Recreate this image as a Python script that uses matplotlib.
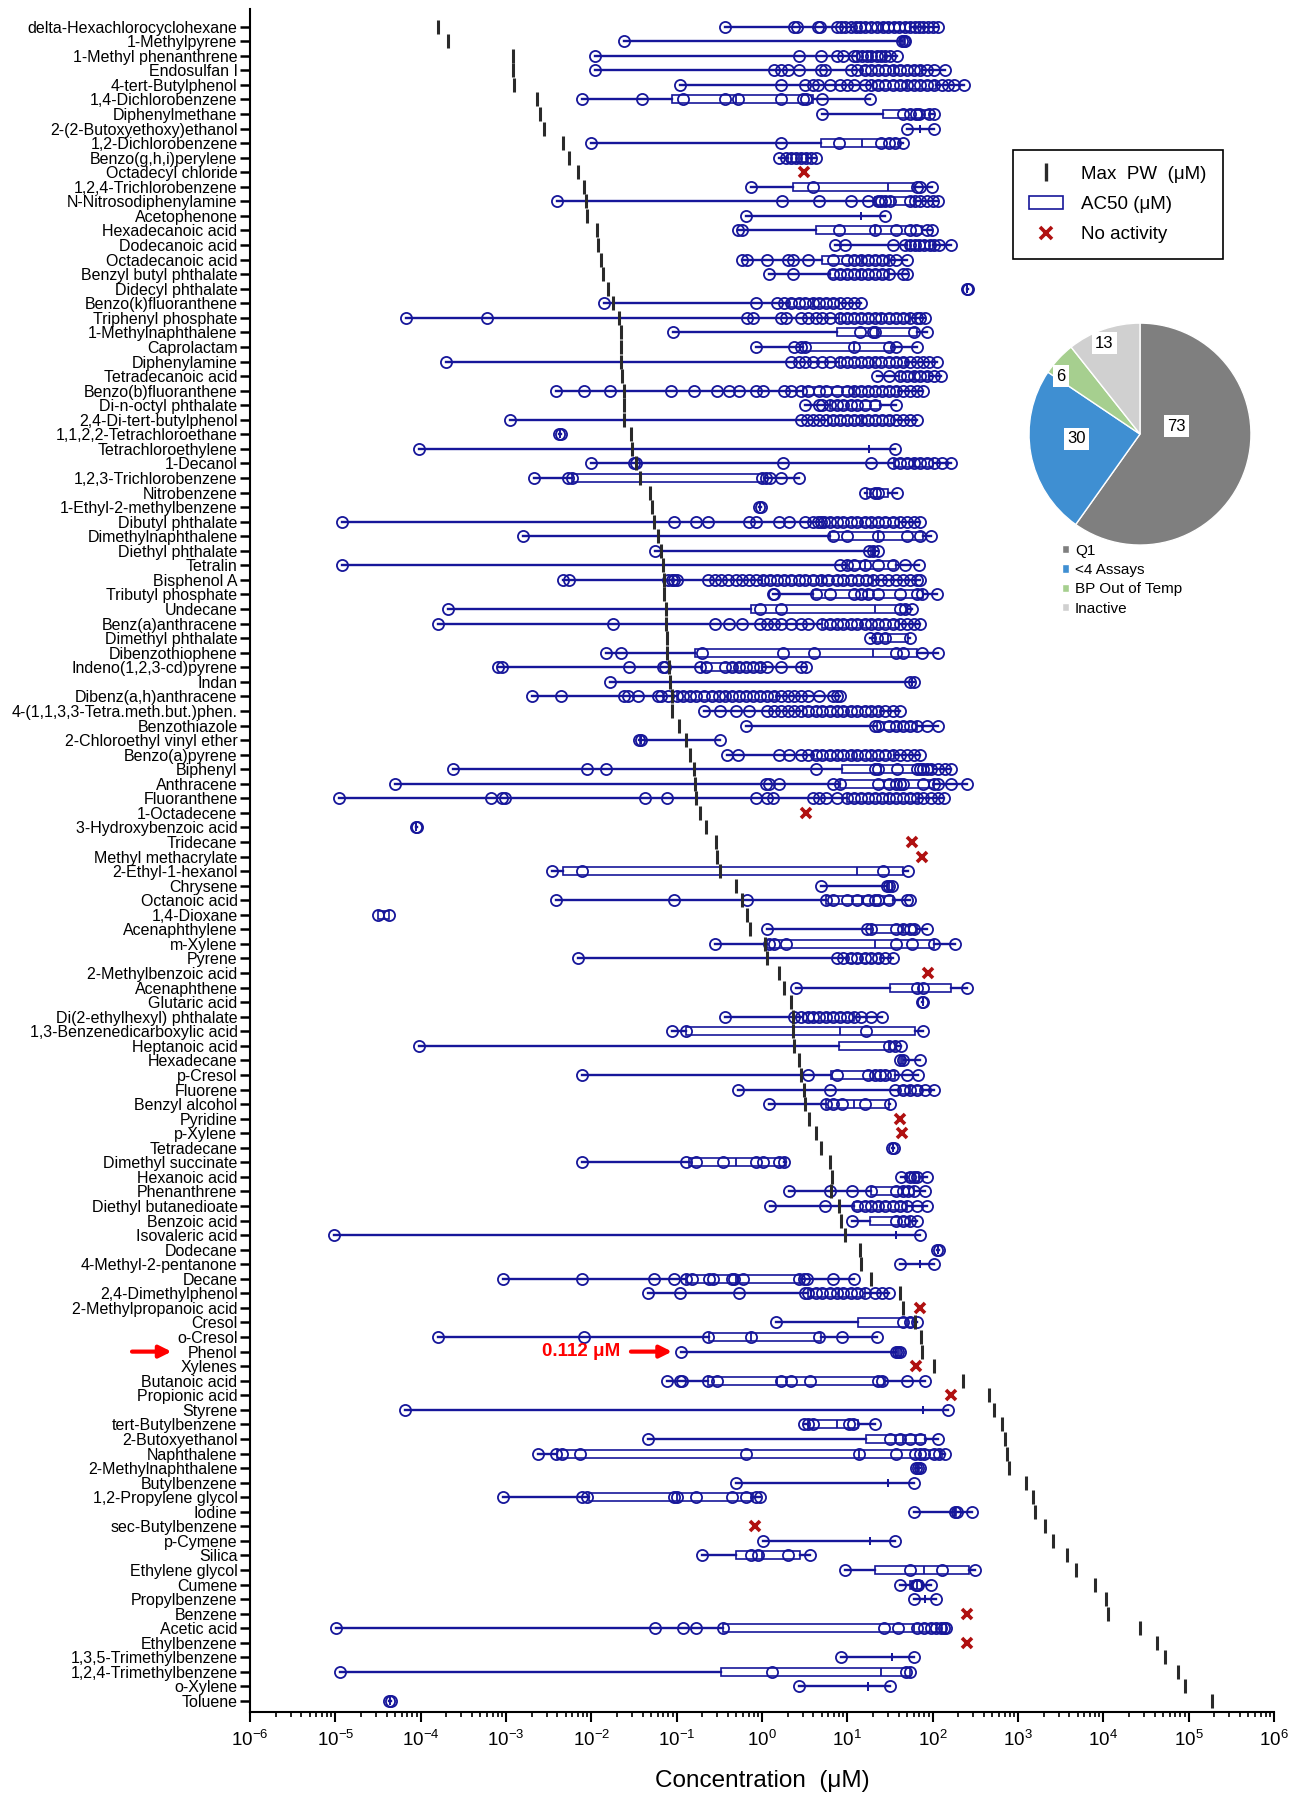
import matplotlib.pyplot as plt
import numpy as np
from matplotlib.lines import Line2D
from matplotlib.patches import Patch
from matplotlib.ticker import LogLocator, NullFormatter

plt.rcParams['font.family'] = ['Liberation Sans', 'DejaVu Sans']

# compounds, top to bottom
compounds = [
    'delta-Hexachlorocyclohexane', '1-Methylpyrene', '1-Methyl phenanthrene', 'Endosulfan I',
    '4-tert-Butylphenol', '1,4-Dichlorobenzene', 'Diphenylmethane', '2-(2-Butoxyethoxy)ethanol',
    '1,2-Dichlorobenzene', 'Benzo(g,h,i)perylene', 'Octadecyl chloride', '1,2,4-Trichlorobenzene',
    'N-Nitrosodiphenylamine', 'Acetophenone', 'Hexadecanoic acid', 'Dodecanoic acid',
    'Octadecanoic acid', 'Benzyl butyl phthalate', 'Didecyl phthalate', 'Benzo(k)fluoranthene',
    'Triphenyl phosphate', '1-Methylnaphthalene', 'Caprolactam', 'Diphenylamine',
    'Tetradecanoic acid', 'Benzo(b)fluoranthene', 'Di-n-octyl phthalate', '2,4-Di-tert-butylphenol',
    '1,1,2,2-Tetrachloroethane', 'Tetrachloroethylene', '1-Decanol', '1,2,3-Trichlorobenzene',
    'Nitrobenzene', '1-Ethyl-2-methylbenzene', 'Dibutyl phthalate', 'Dimethylnaphthalene',
    'Diethyl phthalate', 'Tetralin', 'Bisphenol A', 'Tributyl phosphate',
    'Undecane', 'Benz(a)anthracene', 'Dimethyl phthalate', 'Dibenzothiophene',
    'Indeno(1,2,3-cd)pyrene', 'Indan', 'Dibenz(a,h)anthracene', '4-(1,1,3,3-Tetra.meth.but.)phen.',
    'Benzothiazole', '2-Chloroethyl vinyl ether', 'Benzo(a)pyrene', 'Biphenyl',
    'Anthracene', 'Fluoranthene', '1-Octadecene', '3-Hydroxybenzoic acid',
    'Tridecane', 'Methyl methacrylate', '2-Ethyl-1-hexanol', 'Chrysene',
    'Octanoic acid', '1,4-Dioxane', 'Acenaphthylene', 'm-Xylene',
    'Pyrene', '2-Methylbenzoic acid', 'Acenaphthene', 'Glutaric acid',
    'Di(2-ethylhexyl) phthalate', '1,3-Benzenedicarboxylic acid', 'Heptanoic acid', 'Hexadecane',
    'p-Cresol', 'Fluorene', 'Benzyl alcohol', 'Pyridine',
    'p-Xylene', 'Tetradecane', 'Dimethyl succinate', 'Hexanoic acid',
    'Phenanthrene', 'Diethyl butanedioate', 'Benzoic acid', 'Isovaleric acid',
    'Dodecane', '4-Methyl-2-pentanone', 'Decane', '2,4-Dimethylphenol',
    '2-Methylpropanoic acid', 'Cresol', 'o-Cresol', 'Phenol',
    'Xylenes', 'Butanoic acid', 'Propionic acid', 'Styrene',
    'tert-Butylbenzene', '2-Butoxyethanol', 'Naphthalene', '2-Methylnaphthalene',
    'Butylbenzene', '1,2-Propylene glycol', 'Iodine', 'sec-Butylbenzene',
    'p-Cymene', 'Silica', 'Ethylene glycol', 'Cumene',
    'Propylbenzene', 'Benzene', 'Acetic acid', 'Ethylbenzene',
    '1,3,5-Trimethylbenzene', '1,2,4-Trimethylbenzene', 'o-Xylene', 'Toluene',
]

# max porewater concentration (uM)
max_pw = [
    1.6e-4, 2.1e-4, 1.2e-3, 1.2e-3, 1.25e-3, 2.3e-3, 2.5e-3, 2.8e-3, 4.7e-3, 5.4e-3,
    7.0e-3, 8.2e-3, 8.7e-3, 9.0e-3, 0.0115, 0.012, 0.013, 0.0136, 0.0158, 0.018,
    0.021, 0.022, 0.022, 0.0223, 0.023, 0.024, 0.024, 0.024, 0.029, 0.030,
    0.033, 0.037, 0.049, 0.051, 0.054, 0.060, 0.065, 0.070, 0.072, 0.072,
    0.074, 0.074, 0.077, 0.078, 0.081, 0.083, 0.087, 0.088, 0.107, 0.13,
    0.144, 0.16, 0.165, 0.17, 0.187, 0.22, 0.29, 0.30, 0.32, 0.49,
    0.58, 0.67, 0.73, 1.07, 1.16, 1.6, 1.8, 2.2, 2.3, 2.3,
    2.4, 2.7, 2.9, 3.1, 3.2, 3.6, 4.3, 4.9, 6.2, 6.6,
    6.4, 7.9, 8.5, 9.5, 13.9, 14.4, 18.8, 41, 45, 62,
    73, 76, 105, 224, 460, 525, 650, 700, 740, 790,
    1240, 1490, 1580, 2050, 2570, 3800, 4760, 7950, 10700, 11500,
    27000, 43000, 53000, 75000, 91000, 186000,
]

# AC50 values (uM) per compound, empty = no activity
ac50 = [
    [0.37, 2.4, 2.6, 4.5, 4.8, 7.5, 8.5, 9.5, 11, 12.5, 14, 16, 19, 22, 26, 30, 35, 40, 47, 55, 62, 70, 78, 88, 100, 115],
    [0.024, 44, 46, 48],
    [0.011, 2.7, 4.9, 7.5, 9, 12, 13, 15, 17, 19, 22, 25, 28, 32, 38],
    [0.011, 1.4, 1.66, 2.0, 2.7, 4.9, 5.5, 11, 13, 16, 19, 23, 28, 34, 41, 50, 60, 72, 87, 105, 139],
    [0.11, 1.66, 3.2, 4.0, 4.5, 6.2, 8.2, 10, 12, 16, 19, 23, 28, 34, 41, 50, 60, 72, 87, 105, 127, 150, 180, 236],
    [0.0078, 0.039, 0.12, 0.37, 0.52, 1.66, 3.0, 3.3, 5.1, 18.6],
    [5.1, 45, 55, 63, 70, 90, 105],
    [50, 105],
    [0.010, 1.66, 7.9, 25, 31, 36, 45],
    [1.6, 1.9, 2.2, 2.5, 2.9, 3.3, 3.8, 4.3],
    [],
    [0.74, 4.0, 65, 72, 99],
    [0.004, 1.7, 4.7, 11, 17.5, 23, 25, 28, 32, 55, 62, 72, 85, 100, 115],
    [0.65, 28],
    [0.52, 0.59, 7.9, 21, 37, 54, 63, 87, 99],
    [7.1, 9.4, 34, 48, 55, 62, 70, 80, 92, 105, 120, 166],
    [0.59, 0.67, 1.14, 2.0, 2.3, 3.5, 6.8, 10, 12, 14.5, 17.5, 21, 25.5, 31, 37, 50],
    [1.2, 2.3, 6.8, 8.2, 10, 12, 14.5, 17.5, 21, 25.5, 31, 45, 50],
    [250, 260],
    [0.014, 0.86, 1.5, 1.8, 2.2, 2.7, 3.2, 4.0, 4.7, 5.6, 6.8, 8.2, 10, 12, 14.5],
    [6.8e-5, 6e-4, 0.67, 0.78, 1.66, 1.9, 2.9, 3.5, 4.3, 5.1, 6.2, 8.2, 10, 12, 14.5, 17.5, 21, 25, 31, 37, 45, 54, 65, 72, 82],
    [0.09, 14, 20, 21, 60, 87],
    [0.86, 2.4, 2.9, 3.2, 12, 31, 37, 65],
    [2e-4, 2.2, 2.7, 3.2, 4.0, 5.1, 6.2, 8.2, 10, 12, 14.5, 17.5, 21, 25, 31, 37, 45, 54, 65, 78, 90, 111],
    [22, 31, 41, 50, 60, 72, 87, 105, 125],
    [0.0039, 0.0082, 0.0165, 0.085, 0.16, 0.30, 0.41, 0.54, 0.86, 1.04, 1.8, 2.2, 2.9, 3.5, 4.7, 5.6, 7.5, 10, 12, 14.5, 17.5, 21, 25.5, 31, 37, 45, 54, 65, 78],
    [3.2, 4.7, 5.1, 6.2, 7.5, 9, 11, 13, 16, 21, 37],
    [0.0011, 2.9, 3.4, 4.0, 4.7, 5.6, 6.8, 8.2, 10, 12, 14.5, 17.5, 21, 25.5, 31, 37, 45, 54, 65],
    [0.0042, 0.0044],
    [9.6e-5, 36],
    [0.01, 0.032, 0.033, 1.76, 19, 34, 41, 50, 60, 72, 87, 105, 127, 166],
    [0.0021, 0.0053, 0.0059, 1.0, 1.1, 1.25, 1.66, 2.7],
    [16, 21, 23, 38],
    [0.93, 0.97],
    [1.2e-5, 0.093, 0.17, 0.23, 0.71, 0.86, 1.6, 2.1, 3.2, 4.0, 4.5, 4.9, 5.4, 6.2, 7.5, 9, 11, 13, 16, 19, 23, 28, 34, 41, 50, 60, 72],
    [0.0016, 6.8, 10, 23, 50, 72, 95],
    [0.056, 18, 20, 23],
    [1.2e-5, 8.2, 10, 12, 16, 23, 34, 47, 70],
    [0.0046, 0.0055, 0.08, 0.087, 0.093, 0.1, 0.23, 0.28, 0.33, 0.4, 0.49, 0.59, 0.71, 0.86, 1.04, 1.25, 1.5, 1.8, 2.2, 2.7, 3.2, 4.0, 4.9, 6, 7.5, 9, 11, 13.5, 16.5, 20, 25, 30, 37, 45, 55, 65, 72],
    [1.33, 1.4, 4.3, 6.2, 12, 14.5, 17.5, 23, 41, 65, 75, 111],
    [2.1e-4, 0.95, 1.66, 41, 47, 57],
    [1.6e-4, 0.018, 0.28, 0.41, 0.59, 0.95, 1.14, 1.38, 1.66, 2.2, 2.9, 3.5, 5.1, 6.2, 7.5, 9, 11, 13, 16, 19, 23, 28, 34, 41, 50, 60, 72],
    [18.6, 22, 28, 54],
    [0.015, 0.022, 0.2, 1.76, 4.1, 37, 45, 75, 115],
    [8.1e-4, 8.9e-4, 0.028, 0.07, 0.073, 0.19, 0.22, 0.37, 0.45, 0.54, 0.65, 0.78, 0.95, 1.14, 1.66, 2.9, 3.3],
    [0.0165, 54, 60],
    [0.002, 0.0044, 0.024, 0.027, 0.035, 0.06, 0.066, 0.08, 0.1, 0.12, 0.145, 0.17, 0.21, 0.26, 0.31, 0.37, 0.45, 0.54, 0.65, 0.78, 0.95, 1.14, 1.4, 1.66, 2.0, 2.4, 2.9, 3.5, 4.7, 6.8, 7.5, 8.2],
    [0.21, 0.32, 0.49, 0.71, 1.14, 1.4, 1.66, 2.0, 2.4, 2.9, 3.5, 4.3, 5.1, 6.2, 7.5, 9, 11, 13, 16, 19, 23, 28, 34, 41],
    [0.65, 21, 23, 31, 37, 45, 54, 65, 87, 115],
    [0.036, 0.038, 0.32],
    [0.39, 0.52, 1.6, 2.1, 2.9, 3.5, 4.3, 5.1, 6.2, 7.5, 9, 11, 13, 16, 19, 23, 28, 34, 41, 50, 60, 72],
    [2.4e-4, 0.009, 0.015, 4.3, 21, 23, 38, 65, 72, 78, 87, 95, 115, 138, 166],
    [5e-5, 1.12, 1.2, 1.6, 6.8, 8.2, 23, 31, 37, 41, 45, 78, 105, 115, 166, 255],
    [1.1e-5, 6.7e-4, 9e-4, 9.8e-4, 0.042, 0.077, 0.86, 1.14, 1.33, 4.0, 4.7, 5.6, 7.5, 10, 12, 14.5, 17.5, 21, 25.5, 31, 37, 45, 54, 65, 78, 95, 115, 135],
    [],
    [8.8e-5, 9e-5],
    [],
    [],
    [0.0035, 0.0078, 26.5, 52],
    [4.9, 29, 31, 33],
    [0.0039, 0.093, 0.67, 5.6, 6.8, 10, 13, 17.5, 21, 23, 31, 50, 54],
    [3.2e-5, 4.2e-5],
    [1.14, 17, 19, 37, 45, 54, 60, 87],
    [0.28, 1.2, 1.38, 1.9, 37, 57, 105, 183],
    [0.0069, 7.5, 9, 11, 13, 16, 19, 23, 28, 34],
    [],
    [2.5, 65, 77, 255],
    [75, 78],
    [0.37, 2.4, 2.9, 3.5, 4.0, 4.7, 5.6, 6.8, 8.2, 10, 12, 14.5, 19, 25.5],
    [0.087, 0.13, 16.5, 77],
    [9.6e-5, 31, 36, 43],
    [41, 45, 72],
    [0.0078, 3.5, 7.5, 17.5, 21, 24, 28, 34, 50, 68],
    [0.52, 6.2, 36, 45, 54, 65, 82, 105],
    [1.2, 5.6, 6.8, 8.6, 16, 32],
    [],
    [],
    [33, 35],
    [0.0078, 0.13, 0.17, 0.35, 0.86, 1.04, 1.6, 1.8],
    [43, 54, 60, 65, 87],
    [2.1, 6.2, 11.4, 19, 37, 45, 52, 60, 82],
    [1.25, 5.5, 13, 16, 19, 23, 28, 34, 41, 50, 65, 87],
    [11.4, 37, 45, 54, 65],
    [9.6e-6, 72],
    [112, 118],
    [41, 105],
    [9.2e-4, 0.0078, 0.054, 0.093, 0.13, 0.15, 0.24, 0.27, 0.44, 0.47, 0.6, 2.7, 3.1, 3.4, 6.8, 12],
    [0.046, 0.11, 0.54, 3.2, 3.5, 4.3, 5.1, 6.2, 7.5, 9, 11, 13, 16, 21, 25.5, 31],
    [],
    [1.46, 45, 54, 65],
    [1.6e-4, 0.0081, 0.23, 0.74, 4.7, 8.7, 22],
    [0.112, 37, 39, 41],
    [],
    [0.077, 0.11, 0.115, 0.23, 0.3, 1.66, 2.2, 3.7, 23, 25.5, 50, 82],
    [],
    [6.6e-5, 150],
    [3.1, 3.5, 4.0, 10.6, 11.6, 21],
    [0.046, 32, 41, 54, 72, 115],
    [0.0024, 0.0039, 0.0045, 0.0074, 0.65, 13.7, 37, 62, 72, 80, 105, 120, 138],
    [63, 68, 72],
    [0.49, 60],
    [9.2e-4, 0.0078, 0.009, 0.093, 0.1, 0.17, 0.45, 0.65, 0.86, 0.95],
    [60, 183, 193, 290],
    [],
    [1.04, 36],
    [0.2, 0.74, 0.89, 2.0, 3.7],
    [9.4, 54, 127, 315],
    [42, 63, 65, 68, 95],
    [60, 110],
    [],
    [1.02e-5, 0.055, 0.12, 0.17, 0.35, 27, 39, 66, 80, 95, 110, 125, 135, 145],
    [],
    [8.4, 60],
    [1.13e-5, 1.3, 49, 55],
    [2.7, 32],
    [4.3e-5, 4.5e-5],
]

# box (Q1, median, Q3) read from the boxes, None = no activity
box_q = [
    (12, 25, 55), (44, 46, 48), (13, 19, 28), (15, 35, 75), (20, 50, 110),
    (0.087, 0.5, 4.0), (26.5, 75, 92), (72, 72, 72), (4.9, 15, 41), (2.0, 2.7, 3.5),
    None, (2.3, 30, 60), (21, 35, 60), (14.5, 14.5, 14.5), (4.3, 21, 75),
    (50, 70, 100), (5.1, 15, 31), (6.2, 14, 31), (255, 255, 255), (2, 4, 8),
    (8, 25, 55), (7.5, 22, 65), (3.0, 12, 34), (8, 20, 50), (40, 60, 90),
    (3, 12, 40), (6.2, 10, 24), (6, 15, 35), (0.0043, 0.0043, 0.0043), (18, 18, 18),
    (35, 60, 100), (0.0059, 0.037, 1.05), (17, 22, 30), (0.95, 0.95, 0.95), (5, 15, 40),
    (6.2, 23, 78), (19, 20, 21), (10, 16, 37), (1, 5, 20), (4, 17, 78),
    (0.74, 21, 50), (5, 15, 40), (21, 30, 52), (0.165, 20, 65), (0.2, 0.5, 1.0),
    (57, 57, 57), (0.1, 0.4, 1.5), (3, 10, 25), (22, 40, 65), (0.037, 0.038, 0.038),
    (4, 12, 35), (8.7, 25, 100), (8.2, 40, 105), (10, 30, 70), None,
    (8.9e-5, 8.9e-5, 8.9e-5), None, None, (0.0047, 13, 45), (29, 31, 33),
    (5.6, 15, 34), (3.2e-5, 3.7e-5, 4.2e-5), (19, 45, 65), (1.14, 21, 105), (10, 15, 25),
    None, (32, 70, 162), (76.5, 76.5, 76.5), (3, 6, 12), (0.13, 8.2, 62),
    (7.9, 31, 37), (41, 44, 46), (6.5, 20, 36), (40, 55, 75), (5.6, 12, 31),
    None, None, (34, 34, 34), (0.14, 0.5, 1.9), (50, 60, 70),
    (19, 45, 60), (12, 25, 50), (18.6, 40, 54), (37, 37, 37), (115, 115, 115),
    (72, 72, 72), (0.13, 0.5, 2.9), (3.5, 8, 16), None, (13.2, 50, 60),
    (0.24, 0.74, 4.9), (37, 39, 41), None, (0.23, 1.5, 28), None,
    (77, 77, 77), (3.5, 7.5, 13.2), (16.5, 45, 82), (0.004, 13.7, 130), (65, 68, 70),
    (30, 30, 30), (0.0093, 0.1, 0.78), (180, 185, 190), None, (18.6, 18.6, 18.6),
    (0.49, 1.0, 2.8), (21, 80, 270), (55, 65, 75), (81, 81, 81), None,
    (0.35, 60, 145), None, (33, 33, 33), (0.33, 25, 55), (17.5, 17.5, 17.5),
    (4.4e-5, 4.4e-5, 4.4e-5),
]

# where the "no activity" cross sits (uM)
no_activity = {
    'Octadecyl chloride': 3.1, '1-Octadecene': 3.3, 'Tridecane': 57,
    'Methyl methacrylate': 75, '2-Methylbenzoic acid': 89, 'Pyridine': 42,
    'p-Xylene': 44, '2-Methylpropanoic acid': 72, 'Xylenes': 63,
    'Propionic acid': 166, 'sec-Butylbenzene': 0.83, 'Benzene': 250,
    'Ethylbenzene': 250,
}

# pie of compound categories
pie_labels = ['Q1', '<4 Assays', 'BP Out of Temp', 'Inactive']
pie_counts = [73, 30, 6, 13]
pie_colors = ['#7f7f7f', '#3f8fd2', '#a6cf8f', '#d0d0d0']

navy = '#16169a'
rows = np.arange(len(compounds))

fig = plt.figure(figsize=(13.03, 18.0), dpi=100)
ax = fig.add_axes([0.1919, 0.0489, 0.7858, 0.946])

# box plots
stats = []
pos = []
for i in range(len(compounds)):
    if box_q[i] is None:
        continue
    q1, med, q3 = box_q[i]
    stats.append(dict(q1=q1, med=med, q3=q3, whislo=min(ac50[i]), whishi=max(ac50[i]), fliers=[]))
    pos.append(i)
ax.bxp(stats, positions=pos, widths=0.55, orientation='horizontal', patch_artist=True,
       showcaps=False, showfliers=False, manage_ticks=False,
       boxprops=dict(facecolor='white', edgecolor=navy, linewidth=1.2),
       whiskerprops=dict(color=navy, linewidth=1.7),
       medianprops=dict(color=navy, linewidth=1.3))

# individual AC50 circles
for i in range(len(compounds)):
    if len(ac50[i]) > 0:
        ax.plot(ac50[i], [i] * len(ac50[i]), 'o', mfc='none', mec=navy, ms=8, mew=1.3, zorder=3)

# max porewater
ax.plot(max_pw, rows, '|', color='#2a2a2a', ms=10, mew=2.2, zorder=4)

# no activity
na_rows = [compounds.index(c) for c in no_activity]
ax.plot(list(no_activity.values()), na_rows, 'x', color='#b01010', ms=7.5, mew=2.6, zorder=4)

ax.set_xscale('log')
ax.set_xlim(1e-6, 1e6)
ax.set_ylim(115.75, -1.2)
ax.set_yticks(rows)
ax.set_yticklabels(compounds, fontsize=11.5)
ax.xaxis.set_major_locator(LogLocator(base=10, numticks=20))
ax.xaxis.set_minor_locator(LogLocator(base=10, subs=np.arange(2, 10), numticks=200))
ax.xaxis.set_minor_formatter(NullFormatter())
ax.tick_params(axis='x', which='major', length=7, width=1.5, labelsize=13.5, pad=6)
ax.tick_params(axis='x', which='minor', length=3.5, width=1.2)
ax.tick_params(axis='y', length=7, width=1.8, pad=2)
ax.set_xlabel('Concentration  (\u03bcM)', fontsize=17.5, labelpad=14)
for s in ['top', 'right']:
    ax.spines[s].set_visible(False)
ax.spines['left'].set_linewidth(1.5)
ax.spines['bottom'].set_linewidth(1.5)

# phenol call-out
iph = compounds.index('Phenol')
ax.annotate('', xy=(-0.074, iph), xytext=(-0.118, iph), xycoords=('axes fraction', 'data'),
            annotation_clip=False,
            arrowprops=dict(arrowstyle='-|>', color='red', lw=3, mutation_scale=18))
ax.text(0.0076, iph, '0.112 \u03bcM', color='red', fontsize=13.5, fontweight='bold',
        ha='center', va='center')
ax.annotate('', xy=(0.095, iph), xytext=(0.027, iph),
            arrowprops=dict(arrowstyle='-|>', color='red', lw=3, mutation_scale=18))

# legend
handles = [Line2D([], [], marker='|', ls='none', color='#2a2a2a', ms=13, mew=2.4),
           Patch(facecolor='white', edgecolor=navy, linewidth=1.2),
           Line2D([], [], marker='x', ls='none', color='#b01010', ms=8, mew=2.6)]
leg = ax.legend(handles, ['Max  PW  (\u03bcM)', 'AC50 (\u03bcM)', 'No activity'],
                loc='upper left', bbox_to_anchor=(0.736, 0.923), fontsize=13.5,
                fancybox=False, framealpha=1, edgecolor='black', borderpad=0.85,
                labelspacing=0.7, handlelength=1.8, handletextpad=1.0)
leg.get_frame().set_linewidth(1.2)

# pie chart
pax = fig.add_axes([0.7897, 0.6972, 0.1704, 0.1233])
wedges, _ = pax.pie(pie_counts, colors=pie_colors, startangle=90, counterclock=False,
                    wedgeprops=dict(edgecolor='white', linewidth=1))
pax.set_xlim(-1, 1)
pax.set_ylim(-1, 1)
pax.set_aspect('equal')
label_xy = [(0.33, 0.07), (-0.57, -0.04), (-0.71, 0.52), (-0.32, 0.82)]
for (lx, ly), n in zip(label_xy, pie_counts):
    pax.text(lx, ly, str(n), ha='center', va='center', fontsize=12,
             bbox=dict(facecolor='white', edgecolor='none', pad=2.5))
fig.legend(wedges, pie_labels, loc='upper left', bbox_to_anchor=(0.815, 0.698),
           frameon=False, fontsize=11, handlelength=0.45, handleheight=0.45,
           labelspacing=0.35, handletextpad=0.4, borderpad=0, borderaxespad=0)

plt.savefig('out.png', dpi=100)
